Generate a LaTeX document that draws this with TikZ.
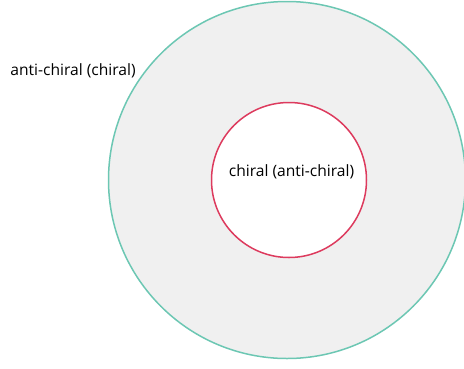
\documentclass[tikz,border=0pt]{standalone}
\usepackage{fontspec}
\setmainfont{Open Sans}
\usetikzlibrary{positioning}
\definecolor{ringteal}{HTML}{6CC7B3}
\definecolor{ringred}{HTML}{DD3B5E}
\definecolor{ringfill}{HTML}{F0F0F0}
\tikzset{
	x=1pt, y=-1pt,
	outerring/.style={circle, draw=ringteal, line width=1.5pt, fill=ringfill, minimum size=357pt, inner sep=0pt},
	innerring/.style={circle, draw=ringred, line width=1.5pt, fill=white, minimum size=155pt, inner sep=0pt},
	ringlabel/.style={font=\fontsize{15.6}{18}\selectfont, inner sep=0pt},
}

\begin{document}
\begin{tikzpicture}
		\useasboundingbox (0,0) rectangle (464,368);
		\node[outerring] (anti) at (287,180) {};
		\node[innerring] (chi) at (289,180) {};
		\node[ringlabel] (antilabel) at (73,71) {anti-chiral (chiral)};
		\node[ringlabel] (chilabel) at (291.5,172) {chiral (anti-chiral)};
	\end{tikzpicture}
\end{document}
